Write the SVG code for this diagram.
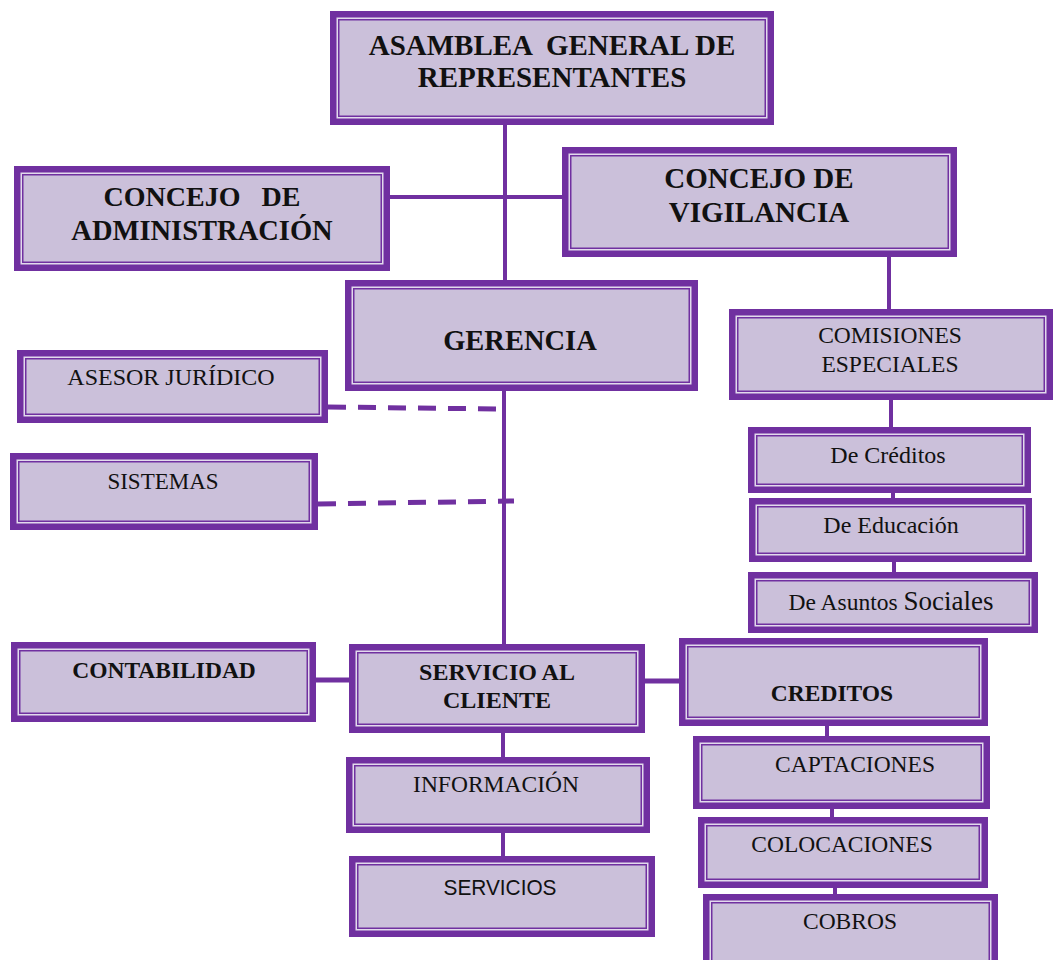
<svg xmlns="http://www.w3.org/2000/svg" width="1059" height="960" viewBox="0 0 1059 960">
<style>
.b1{fill:#7030A0}
.b2{fill:#E2DAEC}
.b3{fill:#CBC0DA;stroke:#7030A0;stroke-width:1.5}
.tb{font-family:"Liberation Serif","Times New Roman",serif;font-weight:bold;fill:#111;text-anchor:middle}
.tr{font-family:"Liberation Serif","Times New Roman",serif;fill:#111;text-anchor:middle}
.ts{font-family:"Liberation Sans",Arial,sans-serif;fill:#111;text-anchor:middle}
.c{stroke:#7030A0;stroke-width:4;fill:none}
.d{stroke:#7030A0;stroke-width:5;fill:none;stroke-dasharray:18 12}
</style>
<rect width="1059" height="960" fill="#fff"/>
<g id="connectors">
<line class="c" x1="505" y1="120" x2="505" y2="285"/>
<line class="c" x1="385" y1="197" x2="567" y2="197"/>
<line class="c" x1="889" y1="252" x2="889" y2="313"/>
<line class="c" x1="504" y1="386" x2="504" y2="650"/>
<path class="d" d="M328 407 L500 409"/>
<path class="d" d="M318 504 L514 501"/>
<line class="c" x1="891" y1="396" x2="891" y2="432"/>
<line class="c" x1="893" y1="489" x2="893" y2="503"/>
<line class="c" x1="894" y1="557" x2="894" y2="576"/>
<line class="c" x1="312" y1="680" x2="353" y2="680" style="stroke-width:5"/>
<line class="c" x1="640" y1="681" x2="683" y2="681" style="stroke-width:5"/>
<line class="c" x1="503" y1="728" x2="503" y2="761"/>
<line class="c" x1="503" y1="829" x2="503" y2="860"/>
<line class="c" x1="827" y1="722" x2="827" y2="741"/>
<line class="c" x1="832" y1="805" x2="832" y2="821"/>
<line class="c" x1="835" y1="884" x2="835" y2="898"/>
</g>
<g id="asamblea">
<rect class="b1" x="330" y="11" width="444" height="114"/><rect class="b2" x="336.5" y="17.5" width="431" height="101"/><rect class="b3" x="338.75" y="19.75" width="426.5" height="96.5"/>
<text class="tb" x="552" y="55" font-size="29" xml:space="preserve">ASAMBLEA  GENERAL DE</text>
<text class="tb" x="552" y="87" font-size="29">REPRESENTANTES</text>
</g>
<g id="admin">
<rect class="b1" x="14" y="166" width="376" height="105"/><rect class="b2" x="20.5" y="172.5" width="363" height="92"/><rect class="b3" x="22.75" y="174.75" width="358.5" height="87.5"/>
<text class="tb" x="202" y="206" font-size="28" xml:space="preserve">CONCEJO   DE</text>
<text class="tb" x="202" y="240" font-size="28.5">ADMINISTRACIÓN</text>
</g>
<g id="vigilancia">
<rect class="b1" x="562" y="147" width="395" height="110"/><rect class="b2" x="568.5" y="153.5" width="382" height="97"/><rect class="b3" x="570.75" y="155.75" width="377.5" height="92.5"/>
<text class="tb" x="759" y="188" font-size="29">CONCEJO DE</text>
<text class="tb" x="759" y="222" font-size="29">VIGILANCIA</text>
</g>
<g id="gerencia">
<rect class="b1" x="345" y="280" width="353" height="111"/><rect class="b2" x="351.5" y="286.5" width="340" height="98"/><rect class="b3" x="353.75" y="288.75" width="335.5" height="93.5"/>
<text class="tb" x="520" y="350" font-size="28.5">GERENCIA</text>
</g>
<g id="comisiones">
<rect class="b1" x="729" y="309" width="324" height="91"/><rect class="b2" x="735.5" y="315.5" width="311" height="78"/><rect class="b3" x="737.75" y="317.75" width="306.5" height="73.5"/>
<text class="tr" x="890" y="343" font-size="23.5">COMISIONES</text>
<text class="tr" x="890" y="372" font-size="23.5">ESPECIALES</text>
</g>
<g id="asesor">
<rect class="b1" x="17" y="350" width="311" height="73"/><rect class="b2" x="23.5" y="356.5" width="298" height="60"/><rect class="b3" x="25.75" y="358.75" width="293.5" height="55.5"/>
<text class="tr" x="171" y="385" font-size="24">ASESOR JURÍDICO</text>
</g>
<g id="sistemas">
<rect class="b1" x="10" y="453" width="308" height="77"/><rect class="b2" x="16.5" y="459.5" width="295" height="64"/><rect class="b3" x="18.75" y="461.75" width="290.5" height="59.5"/>
<text class="tr" x="163" y="489" font-size="23">SISTEMAS</text>
</g>
<g id="de-creditos">
<rect class="b1" x="748" y="427" width="283" height="66"/><rect class="b2" x="754.5" y="433.5" width="270" height="53"/><rect class="b3" x="756.75" y="435.75" width="265.5" height="48.5"/>
<text class="tr" x="888" y="463" font-size="24">De Créditos</text>
</g>
<g id="de-educacion">
<rect class="b1" x="749" y="498" width="283" height="64"/><rect class="b2" x="755.5" y="504.5" width="270" height="51"/><rect class="b3" x="757.75" y="506.75" width="265.5" height="46.5"/>
<text class="tr" x="891" y="533" font-size="24">De Educación</text>
</g>
<g id="de-asuntos">
<rect class="b1" x="748" y="572" width="290" height="61"/><rect class="b2" x="754.5" y="578.5" width="277" height="48"/><rect class="b3" x="756.75" y="580.75" width="272.5" height="43.5"/>
<text class="tr" x="891" y="610" font-size="23.5">De Asuntos <tspan font-size="27">Sociales</tspan></text>
</g>
<g id="contabilidad">
<rect class="b1" x="11" y="642" width="305" height="80"/><rect class="b2" x="17.5" y="648.5" width="292" height="67"/><rect class="b3" x="19.75" y="650.75" width="287.5" height="62.5"/>
<text class="tb" x="164" y="678" font-size="23.5">CONTABILIDAD</text>
</g>
<g id="servicio-cliente">
<rect class="b1" x="349" y="644" width="296" height="89"/><rect class="b2" x="355.5" y="650.5" width="283" height="76"/><rect class="b3" x="357.75" y="652.75" width="278.5" height="71.5"/>
<text class="tb" x="497" y="680" font-size="24">SERVICIO AL</text>
<text class="tb" x="497" y="708" font-size="24">CLIENTE</text>
</g>
<g id="creditos">
<rect class="b1" x="679" y="638" width="309" height="88"/><rect class="b2" x="685.5" y="644.5" width="296" height="75"/><rect class="b3" x="687.75" y="646.75" width="291.5" height="70.5"/>
<text class="tb" x="832" y="701" font-size="23.5">CREDITOS</text>
</g>
<g id="captaciones">
<rect class="b1" x="693" y="736" width="297" height="73"/><rect class="b2" x="699.5" y="742.5" width="284" height="60"/><rect class="b3" x="701.75" y="744.75" width="279.5" height="55.5"/>
<text class="tr" x="855" y="772" font-size="23.5">CAPTACIONES</text>
</g>
<g id="colocaciones">
<rect class="b1" x="698" y="817" width="290" height="71"/><rect class="b2" x="704.5" y="823.5" width="277" height="58"/><rect class="b3" x="706.75" y="825.75" width="272.5" height="53.5"/>
<text class="tr" x="842" y="852" font-size="23.5">COLOCACIONES</text>
</g>
<g id="cobros">
<rect class="b1" x="703" y="894" width="295" height="80"/><rect class="b2" x="709.5" y="900.5" width="282" height="67"/><rect class="b3" x="711.75" y="902.75" width="277.5" height="62.5"/>
<text class="tr" x="850" y="929" font-size="23.5">COBROS</text>
</g>
<g id="informacion">
<rect class="b1" x="346" y="757" width="304" height="76"/><rect class="b2" x="352.5" y="763.5" width="291" height="63"/><rect class="b3" x="354.75" y="765.75" width="286.5" height="58.5"/>
<text class="tr" x="496" y="792" font-size="23.5">INFORMACIÓN</text>
</g>
<g id="servicios">
<rect class="b1" x="349" y="856" width="306" height="81"/><rect class="b2" x="355.5" y="862.5" width="293" height="68"/><rect class="b3" x="357.75" y="864.75" width="288.5" height="63.5"/>
<text class="ts" x="500" y="895" font-size="22" textLength="113" lengthAdjust="spacingAndGlyphs">SERVICIOS</text>
</g>
</svg>
